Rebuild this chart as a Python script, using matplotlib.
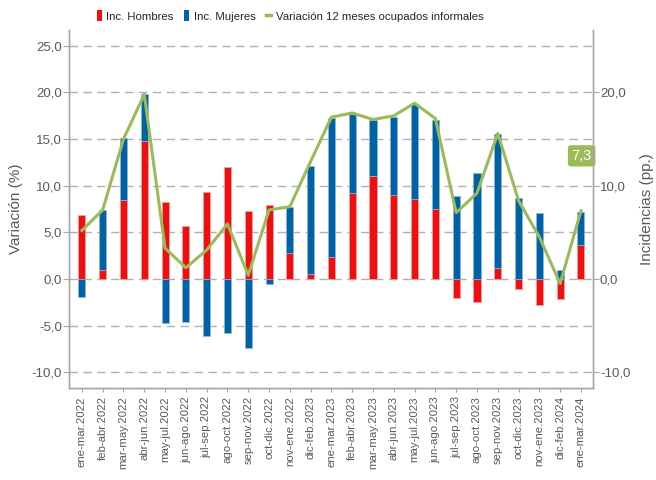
import numpy as np
import matplotlib
matplotlib.use('Agg')
import matplotlib.pyplot as plt
from matplotlib.patches import Patch
from matplotlib.lines import Line2D
from matplotlib.ticker import FuncFormatter

plt.rcParams['font.family'] = ['Liberation Sans', 'DejaVu Sans']

periodos = [
    'ene-mar.2022', 'feb-abr.2022', 'mar-may.2022', 'abr-jun.2022',
    'may-jul.2022', 'jun-ago.2022', 'jul-sep.2022', 'ago-oct.2022',
    'sep-nov.2022', 'oct-dic.2022', 'nov-ene.2022', 'dic-feb.2023',
    'ene-mar.2023', 'feb-abr.2023', 'mar-may.2023', 'abr-jun.2023',
    'may-jul.2023', 'jun-ago.2023', 'jul-sep.2023', 'ago-oct.2023',
    'sep-nov.2023', 'oct-dic.2023', 'nov-ene.2023', 'dic-feb.2024',
    'ene-mar.2024',
]
inc_hombres = [6.9, 1.0, 8.5, 14.8, 8.2, 5.7, 9.3, 12.0, 7.3, 7.9, 2.8, 0.5,
               2.4, 9.2, 11.0, 9.0, 8.6, 7.5, -2.0, -2.5, 1.2, -1.1, -2.85,
               -2.15, 3.6]
inc_mujeres = [-1.9, 6.4, 6.6, 5.0, -4.75, -4.65, -6.1, -5.85, -7.4, -0.5,
               4.9, 11.6, 14.9, 8.5, 6.0, 8.35, 10.2, 9.5, 8.9, 11.4, 14.3,
               8.7, 7.05, 0.97, 3.6]
variacion = [5.2, 7.4, 15.0, 19.8, 3.3, 1.2, 3.1, 5.9, 0.4, 7.4, 7.75, 12.6,
             17.35, 17.8, 17.1, 17.5, 18.85, 17.2, 7.1, 9.2, 15.6, 8.4, 4.5,
             -0.5, 7.3]

c_h = '#EE1010'
c_m = '#0062A6'
c_v = '#9BBB59'
gris = '#595959'
eje = '#A6A6A6'

x = np.arange(len(periodos))
h = np.array(inc_hombres)
m = np.array(inc_mujeres)
# stacking: positives pile on positives, negatives on negatives
base_m = np.where((m >= 0) & (h >= 0), h, 0) + np.where((m < 0) & (h < 0), h, 0)

fig = plt.figure(figsize=(6.56, 4.8), dpi=100)
ax = fig.add_axes([69 / 656, 92 / 480, 524 / 656, 358 / 480])
ax2 = ax.twinx()

w = 0.34
ax.bar(x, h, w, color=c_h, edgecolor='#F5A0A0', linewidth=0.5, zorder=3)
ax.bar(x, m, w, bottom=base_m, color=c_m, edgecolor='#8AB8DD', linewidth=0.5, zorder=3)
ax.plot(x, variacion, color=c_v, lw=2.2, zorder=4)

ylo, yhi = -11.7, 26.7
ax.set_ylim(ylo, yhi)
ax2.set_ylim(ylo, yhi)
ax.set_xlim(-0.62, len(periodos) - 1 + 0.58)

fmt = FuncFormatter(lambda v, p: f'{v:.1f}'.replace('.', ','))
ax.set_yticks(np.arange(-10, 26, 5))
ax.yaxis.set_major_formatter(fmt)
ax2.set_yticks([-10, 0, 10, 20])
ax2.yaxis.set_major_formatter(fmt)

ax.grid(axis='y', color='#B0B0B0', linestyle=(0, (6, 4)), linewidth=1.0, zorder=0)
ax.set_axisbelow(True)

ax.set_xticks(x)
ax.set_xticklabels(periodos, rotation=90, fontsize=8.2, color=gris)
ax.tick_params(axis='x', length=3, color=eje, pad=3)
ax.tick_params(axis='y', labelsize=9.5, labelcolor=gris, length=4, color=eje, pad=1)
ax2.tick_params(axis='y', labelsize=9.5, labelcolor=gris, length=4, color=eje, pad=1)

for a in (ax, ax2):
    a.spines['top'].set_visible(False)
    for s in ('left', 'right', 'bottom'):
        a.spines[s].set_color(eje)
        a.spines[s].set_linewidth(1.0)

ax.set_ylabel('Variación (%)', fontsize=11, color=gris, labelpad=6)
ax2.set_ylabel('Incidencias (pp.)', fontsize=11, color=gris, labelpad=7,
               rotation=90)

ax.text(len(periodos) - 1 + 0.52, 13.2, f'{variacion[-1]:.1f}'.replace('.', ','),
        ha='right', va='center', fontsize=10.5, color='white', zorder=6,
        bbox=dict(boxstyle='round,pad=0.25,rounding_size=0.2', fc=c_v, ec='none'))

handles = [
    Patch(facecolor=c_h, edgecolor='none'),
    Patch(facecolor=c_m, edgecolor='none'),
    Line2D([0], [0], color=c_v, lw=2.5),
]
labels = ['Inc. Hombres', 'Inc. Mujeres', 'Variación 12 meses ocupados informales']
fig.legend(handles, labels, loc='center', bbox_to_anchor=(290 / 656, 1 - 16 / 480),
           ncol=3, frameon=False, fontsize=8.2, labelcolor='#262626',
           handlelength=0.45, handleheight=1.1, handletextpad=0.4,
           columnspacing=0.9)

fig.savefig('out.png', dpi=100)
